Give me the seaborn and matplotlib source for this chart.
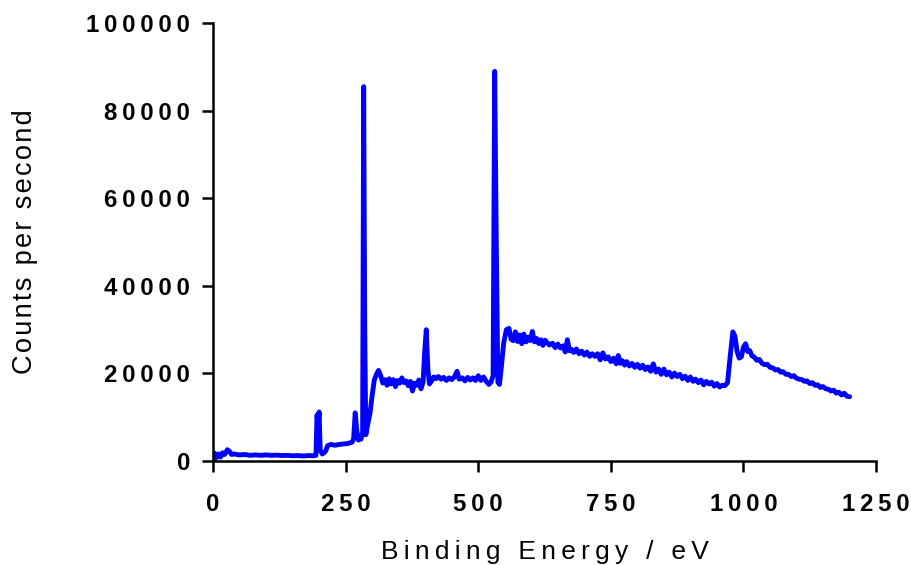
import pandas as pd
import matplotlib
matplotlib.use('Agg')
import matplotlib.pyplot as plt
import seaborn as sns

# XPS survey spectrum
energy = [0, 3, 6, 10, 14, 18, 22, 27, 31, 35, 40, 50, 60, 70, 80, 90, 100, 110, 120, 130,
          140, 150, 160, 170, 180, 190, 194, 196, 198, 200, 202, 206, 212, 216, 222, 230, 238,
          246, 254, 262, 265, 268, 271, 274, 279, 282, 284, 286, 288, 291, 296, 300, 304, 308,
          312, 316, 320, 324, 328, 332, 336, 340, 344, 348, 352, 356, 360, 364, 368, 372, 376,
          380, 384, 388, 392, 396, 399, 402, 405, 408, 412, 416, 420, 425, 430, 435, 440, 445,
          450, 455, 460, 464, 470, 475, 480, 485, 490, 495, 500, 505, 510, 515, 520, 524, 528,
          531, 534, 537, 540, 544, 548, 553, 558, 562, 566, 570, 574, 578, 582, 586, 590, 594,
          598, 602, 606, 610, 614, 618, 622, 626, 630, 634, 640, 645, 650, 655, 660, 664, 668,
          672, 676, 680, 685, 690, 695, 700, 705, 710, 715, 720, 725, 730, 735, 740, 745, 750,
          755, 760, 764, 768, 772, 776, 780, 785, 790, 795, 800, 805, 810, 815, 820, 825, 830,
          835, 840, 845, 850, 855, 860, 865, 870, 875, 880, 885, 890, 895, 900, 905, 910, 915,
          920, 925, 930, 935, 940, 945, 950, 955, 960, 965, 970, 975, 980, 984, 988, 992, 996,
          1000, 1004, 1008, 1012, 1016, 1020, 1025, 1030, 1035, 1040, 1045, 1050, 1055, 1060,
          1065, 1070, 1075, 1080, 1085, 1090, 1095, 1100, 1105, 1110, 1115, 1120, 1125, 1130,
          1135, 1140, 1145, 1150, 1155, 1160, 1165, 1170, 1175, 1180, 1185, 1190, 1195, 1200]

counts = [300, 1800, 700, 1600, 900, 1900, 1500, 2600, 2200, 1500, 1600, 1400, 1500, 1300,
          1400, 1300, 1400, 1300, 1350, 1250, 1300, 1200, 1250, 1150, 1250, 1200, 1300, 10500,
          8500, 11200, 2500, 1600, 2200, 3500, 3800, 3600, 3800, 3900, 4000, 4300, 5000, 11000,
          7000, 4800, 5000, 6500, 85500, 30000, 6000, 8000, 11000, 15000, 18500, 19800, 20700,
          19500, 17800, 18600, 17300, 18800, 17600, 18600, 17000, 18400, 17800, 19000, 17900,
          18300, 17200, 18200, 16000, 17800, 17300, 18500, 16500, 18000, 25000, 30000, 21000,
          17600, 18300, 19200, 18800, 19300, 18700, 19100, 18400, 19000, 18600, 19200, 20500,
          18700, 19000, 18300, 19100, 18500, 19000, 18400, 19500, 18400, 19200, 18200, 17500,
          18000, 19500, 89000, 50000, 18000, 17500, 22000, 27000, 30000, 30300, 27800, 27500,
          29500, 27300, 28800, 26800, 29000, 27200, 28300, 27500, 29600, 27200, 28000, 26800,
          27700, 26400, 27600, 27000, 26500, 26900, 25900, 26700, 25800, 26300, 24900, 27700,
          25200, 25500, 24800, 25600, 24500, 25100, 24200, 24900, 23900, 24500, 23900, 24500,
          23100, 24700, 23300, 23800, 22700, 23500, 22200, 24100, 22300, 22900, 21900, 22700,
          21700, 22300, 21400, 22100, 21200, 21900, 20900, 21500, 20500, 22200, 20300, 21000,
          19800, 21000, 19700, 20300, 19200, 20100, 19300, 19800, 18800, 19400, 18400, 19200,
          18200, 18700, 17900, 18500, 17400, 18200, 17600, 18000, 17100, 17700, 16900, 17300,
          17200, 17900, 24000, 29500, 28500, 25000, 23500, 23800, 26000, 26800, 25000, 25200,
          24000, 23800, 23000, 23200, 22300, 22000, 22100, 21400, 21300, 20800, 20900, 20300,
          20400, 19800, 19800, 19300, 19500, 18900, 18700, 18600, 18200, 18300, 17700, 17900,
          17300, 17400, 16800, 17000, 16500, 16400, 16000, 16200, 15500, 15700, 15100, 15500,
          14800, 14700]

x_ticks = [0, 250, 500, 750, 1000, 1250]
x_tick_text = ['0', '250', '500', '750', '1000', '1250']
y_ticks = [0, 20000, 40000, 60000, 80000, 100000]
y_tick_text = ['0', '20000', '40000', '60000', '80000', '100000']
x_title = 'Binding Energy / eV'
y_title = 'Counts per second'


def spaced(s, gap='\u2009'):
    # fake letter spacing with thin spaces
    return gap.join(s)


df = pd.DataFrame({'Energy': energy, 'Counts': counts})

sns.set_style('ticks')
plt.rcParams['font.family'] = ['Liberation Sans', 'DejaVu Sans']
plt.rcParams['text.color'] = 'black'
plt.rcParams['axes.labelcolor'] = 'black'
plt.rcParams['xtick.color'] = 'black'
plt.rcParams['ytick.color'] = 'black'
plt.rcParams['axes.edgecolor'] = 'black'

fig = plt.figure(figsize=(9.12, 5.65), dpi=100)
ax = fig.add_axes([0.2336, 0.184, 0.727, 0.775])

sns.lineplot(data=df, x='Energy', y='Counts', ax=ax, color='#0000ff',
             linewidth=3.5, estimator=None, sort=False)

ax.set_xlim(0, 1250)
ax.set_ylim(0, 100000)
ax.set_xticks(x_ticks, [spaced(t) for t in x_tick_text])
ax.set_yticks(y_ticks, [spaced(t) for t in y_tick_text])
for lab in ax.get_xticklabels() + ax.get_yticklabels():
    lab.set_fontweight('bold')
    lab.set_fontsize(17.3)

ax.set_xlabel(spaced(x_title), fontsize=19, labelpad=17)
ax.set_ylabel(spaced(y_title, '\u200a'), fontsize=19.6, labelpad=35)

sns.despine(ax=ax)
for side in ['left', 'bottom']:
    ax.spines[side].set_linewidth(1.8)
ax.tick_params(axis='both', width=1.8, length=8, direction='out', pad=8.5)
ax.tick_params(axis='x', length=8, pad=15)

fig.savefig('out.png', dpi=100)
